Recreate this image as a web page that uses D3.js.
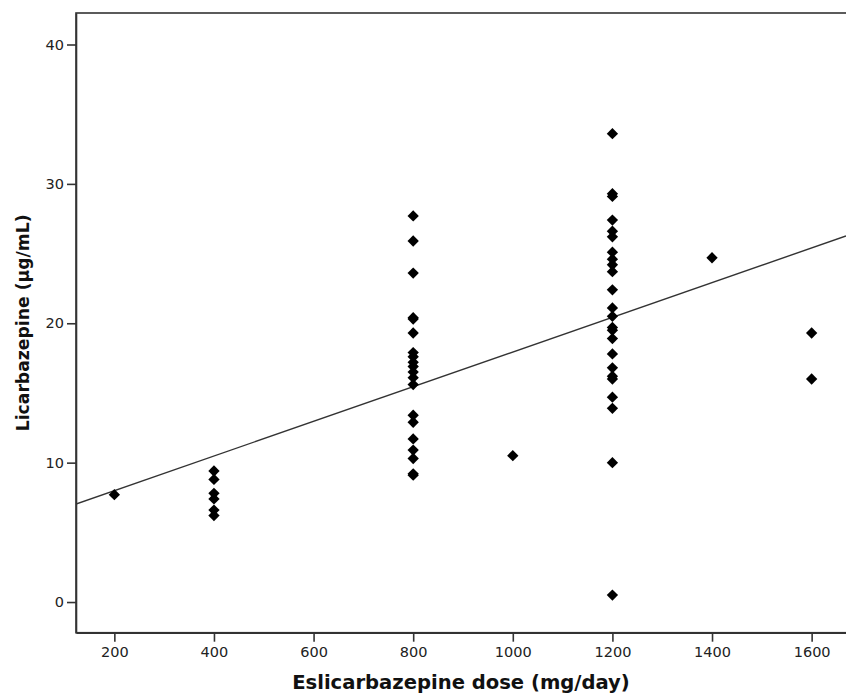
<!DOCTYPE html>
<html>
<head>
<meta charset="utf-8">
<script src="https://cdn.jsdelivr.net/npm/d3@7"></script>
<style>
  html, body { margin: 0; padding: 0; background: #fff; }
  svg { display: block; }
</style>
</head>
<body>
<svg id="chart" width="846" height="696"></svg>
<script>
// ---- data ----
const doses = [200, 400, 800, 1000, 1200, 1400, 1600];
const values200 = [7.7];
const values400 = [9.4, 8.8, 7.8, 7.4, 6.6, 6.2];
const values800 = [27.7, 25.9, 23.6, 20.4, 20.3, 19.3, 17.9, 17.6, 17.2, 16.9, 16.5, 16.1, 15.6, 13.4, 12.9, 11.7, 10.9, 10.3, 9.2, 9.1];
const values1000 = [10.5];
const values1200 = [33.6, 29.3, 29.1, 27.4, 26.6, 26.2, 25.1, 24.6, 24.2, 23.7, 22.4, 21.1, 20.5, 19.7, 19.5, 18.9, 17.8, 16.8, 16.2, 16.0, 14.7, 13.9, 10.0, 0.5];
const values1400 = [24.7];
const values1600 = [19.3, 16.0];
const xTicks = [200, 400, 600, 800, 1000, 1200, 1400, 1600];
const yTicks = [0, 10, 20, 30, 40];
const regIntercept = 5.5;
const regSlope = 0.01244;
const xTitle = "Eslicarbazepine dose (mg/day)";
const yTitle = "Licarbazepine (\u03bcg/mL)";

const valueGroups = [values200, values400, values800, values1000, values1200, values1400, values1600];
const points = [];
doses.forEach((d, i) => valueGroups[i].forEach(v => points.push({dose: d, value: v})));

// ---- layout ----
const pLeft = 76, pRight = 846, pTop = 13, pBottom = 632.7;
const svg = d3.select("#chart");
const x = d3.scaleLinear().domain([123, 1669]).range([pLeft, pRight]);
const y = d3.scaleLinear().domain([-2.2, 42.26]).range([pBottom, pTop]);
const axisColor = "#333";
const tickFont = "DejaVu Sans, Verdana, sans-serif";

// frame (top and left/bottom; right edge falls at the picture border)
svg.append("rect")
  .attr("x", pLeft).attr("y", pTop)
  .attr("width", pRight - pLeft + 5).attr("height", pBottom - pTop)
  .attr("fill", "none").attr("stroke", axisColor).attr("stroke-width", 1.6);

// x axis
const gx = svg.append("g").attr("transform", `translate(0,${pBottom})`)
  .call(d3.axisBottom(x).tickValues(xTicks).tickSizeInner(9).tickSizeOuter(0).tickPadding(5).tickFormat(d3.format("d")));
gx.select(".domain").attr("stroke", axisColor).attr("stroke-width", 1.6);
gx.selectAll(".tick line").attr("stroke", axisColor).attr("stroke-width", 1.6);
gx.selectAll(".tick text").attr("font-family", tickFont).attr("font-size", 14.5).attr("fill", "#222");

// y axis
const gy = svg.append("g").attr("transform", `translate(${pLeft},0)`)
  .call(d3.axisLeft(y).tickValues(yTicks).tickSizeInner(9).tickSizeOuter(0).tickPadding(3).tickFormat(d3.format("d")));
gy.select(".domain").attr("stroke", axisColor).attr("stroke-width", 1.6);
gy.selectAll(".tick line").attr("stroke", axisColor).attr("stroke-width", 1.6);
gy.selectAll(".tick text").attr("font-family", tickFont).attr("font-size", 14.5).attr("fill", "#222");

// regression line
const clipId = "plotclip";
svg.append("clipPath").attr("id", clipId).append("rect")
  .attr("x", pLeft).attr("y", pTop).attr("width", pRight - pLeft).attr("height", pBottom - pTop);
const xd = x.domain();
svg.append("line")
  .attr("clip-path", `url(#${clipId})`)
  .attr("x1", x(xd[0])).attr("y1", y(regIntercept + regSlope * xd[0]))
  .attr("x2", x(xd[1])).attr("y2", y(regIntercept + regSlope * xd[1]))
  .attr("stroke", "#333").attr("stroke-width", 1.4);

// points (diamonds)
const sym = d3.symbol().type(d3.symbolSquare).size(64);
svg.append("g").selectAll("path").data(points).join("path")
  .attr("d", sym)
  .attr("transform", d => `translate(${x(d.dose)},${y(d.value)}) rotate(45)`)
  .attr("fill", "#000");

// axis titles
const titleFont = "DejaVu Sans, Verdana, sans-serif";
const xt = svg.append("text")
  .attr("x", (pLeft + pRight) / 2).attr("y", 689)
  .attr("text-anchor", "middle")
  .attr("font-family", titleFont).attr("font-weight", "bold").attr("font-size", 20)
  .attr("fill", "#111").text(xTitle);
// fit width to reference (~338px)
let w = xt.node().getComputedTextLength();
xt.attr("font-size", 20 * 338 / w);

const yt = svg.append("text")
  .attr("transform", `translate(29,${(pTop + pBottom) / 2}) rotate(-90)`)
  .attr("text-anchor", "middle")
  .attr("font-family", titleFont).attr("font-weight", "bold").attr("font-size", 20)
  .attr("fill", "#111").text(yTitle);
w = yt.node().getComputedTextLength();
yt.attr("font-size", 20 * 217 / w);
</script>
</body>
</html>
